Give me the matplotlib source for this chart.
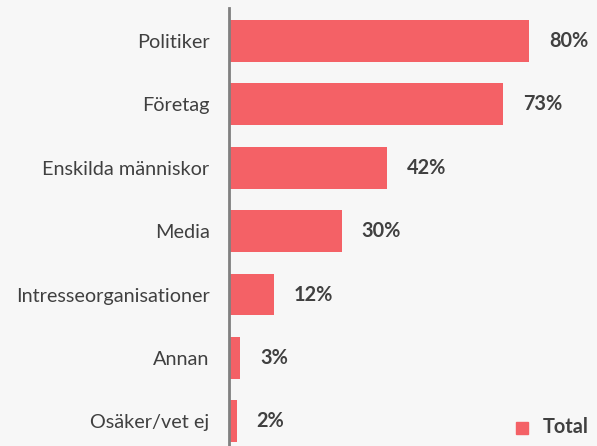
import matplotlib
matplotlib.use("Agg")
import matplotlib.pyplot as plt
from matplotlib.patches import Rectangle

categories = ["Politiker", "Företag", "Enskilda människor", "Media",
              "Intresseorganisationer", "Annan", "Osäker/vet ej"]
values = [80, 73, 42, 30, 12, 3, 2]
series_name = "Total"

BAR = "#F46166"
BG = "#F7F7F7"
TXT = "#404040"
plt.rcParams['font.family'] = ['Lato', 'DejaVu Sans']

W, H = 597, 446
fig = plt.figure(figsize=(W/100, H/100), dpi=100, facecolor=BG)
ax = fig.add_axes([229/W, 0, 1 - 229/W, 1 - 8/H], facecolor=BG)

ypos = list(range(len(categories)))
ax.barh(ypos, values, height=0.66, color=BAR)
ax.set_ylim(6.39, -0.52)
ax.set_xlim(0, (W - 229) / 3.75)

for y, v in zip(ypos, values):
    ax.annotate(f"{v}%", (v, y), xytext=(20, 0), textcoords="offset pixels",
                ha="left", va="center", fontsize=14.3, fontweight="bold", color=TXT)

ax.set_yticks(ypos)
ax.set_yticklabels(categories, fontsize=14.3, color=TXT)
ax.tick_params(axis="y", length=0, pad=14)
ax.set_xticks([])
for s in ["top", "right", "bottom"]:
    ax.spines[s].set_visible(False)
ax.spines["left"].set_color("#808080")
ax.spines["left"].set_linewidth(2)

# legend
fig.patches.append(Rectangle((516/W, 1 - 434/H), 12/W, 12/H, transform=fig.transFigure,
                             color=BAR, figure=fig))
fig.text(543/W, 1 - 427/H, series_name, ha="left", va="center", fontsize=14.3,
         fontweight="bold", color=TXT)

fig.savefig("out.png", dpi=100, facecolor=BG)
